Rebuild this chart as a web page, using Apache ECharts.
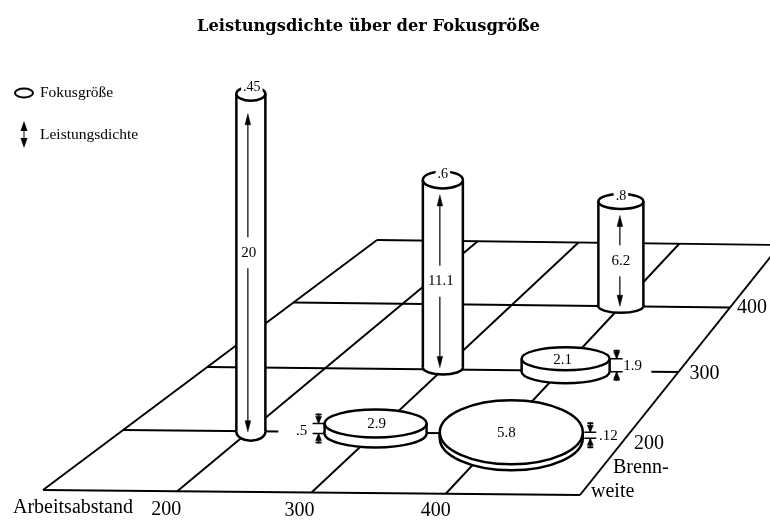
<!DOCTYPE html>
<html>
<head>
<meta charset="utf-8">
<style>html,body{margin:0;padding:0;background:#fff}#c{width:770px;height:520px}</style>
<script src="https://cdn.jsdelivr.net/npm/echarts@6/dist/echarts.min.js"></script>
</head>
<body>
<div id="c"></div>
<script>
// ---- chart values ----
var titleText = 'Leistungsdichte über der Fokusgröße';
var seriesNames = ['Fokusgröße', 'Leistungsdichte'];
var arbeitsabstand = [200, 300, 400, 300, 400, 400];
var brennweite     = [200, 300, 400, 200, 200, 300];
var fokusgroesse   = [.45, .6, .8, 2.9, 5.8, 2.1];
var fokusLabels    = ['.45', '.6', '.8', '2.9', '5.8', '2.1'];
var leistung       = [20, 11.1, 6.2, .5, .12, 1.9];
var leistungLabels = ['20', '11.1', '6.2', '.5', '.12', '1.9'];
var arbeitsTicks = [200, 300, 400];
var brennTicks   = [200, 300, 400];
var planeStops   = [100, 200, 300, 400, 500];

// ---- drawing layout (not data) ----
var FONT = '"Liberation Serif"';
var corners = {fl: [43, 490], fr: [580, 495], bl: [377, 240], br: [780, 245]};
var rowFraction = {100: 0, 200: .24, 300: .492, 400: .75, 500: 1};
var pxPerDensity = 16.9;
// grid line runs that are interrupted in the drawing
var rowRuns = {100: [[100, 500]], 200: [[100, 223], [340, 410]], 300: [[100, 405], [477, 500]], 400: [[100, 500]], 500: [[100, 500]]};
var markShape = [
  {kind: 'col', rx: 14.5, ry: 7, baseRy: 9, dx: 1.5, dy: .5, arrowDx: -3, tipTop: 20, labelDy: -20, topDx: 1, topDy: -6},
  {kind: 'col', rx: 20, ry: 8.5, baseRy: 7, dx: 0, dy: -2, arrowDx: -3, tipTop: 15, labelDy: 0, topDx: 0, topDy: -6},
  {kind: 'col', rx: 22.5, ry: 7.5, baseRy: 6.5, dx: 0, dy: 0, arrowDx: -1, tipTop: 14, labelDy: 0, topDx: 0, topDy: -5},
  {kind: 'disc', rx: 51, ry: 14, dx: 0, dy: 1, thick: 10, side: -1, beam: 6, labelDx: -17, labelDy: 3, valDx: 1, valDy: 1, stem: 10},
  {kind: 'disc', rx: 71.5, ry: 32, dx: 9.5, dy: 4.5, thick: 6, side: 1, beam: 7.5, labelDx: 18, labelDy: 1, valDx: -5, valDy: 1, stem: 10},
  {kind: 'disc', rx: 44, ry: 11.5, dx: 5, dy: 1, thick: 13, side: 1, beam: 7, labelDx: 16, labelDy: 1, valDx: -3, valDy: 1, stem: 9}
];
var arbeitsOffsets = [[-11, 18], [-12, 18], [-10, 17]];
var brennOffsets = [[21, 9], [26, 2], [22, 0]];

// perspective plane -> chart axis values
function project(a, b) {
  var u = (a - 100) / 400, v = rowFraction[b];
  if (v === undefined) v = (b - 100) / 400;
  var f = corners.fl, r = corners.fr, l = corners.bl, k = corners.br;
  var x0 = f[0] + (l[0] - f[0]) * v, y0 = f[1] + (l[1] - f[1]) * v;
  var x1 = r[0] + (k[0] - r[0]) * v, y1 = r[1] + (k[1] - r[1]) * v;
  return [x0 + (x1 - x0) * u, y0 + (y1 - y0) * u];
}

// plane lines built from the stops
var planeLines = [];
planeStops.forEach(function (b) {
  rowRuns[b].forEach(function (run) { planeLines.push([run[0], b, run[1], b]); });
});
planeStops.forEach(function (a) { planeLines.push([a, 100, a, 500]); });

var marks = arbeitsabstand.map(function (a, i) { return [a, brennweite[i], fokusgroesse[i], leistung[i], i]; });

function txt(x, y, text, size, opt) {
  opt = opt || {};
  var style = {x: x, y: y, text: text, fill: '#000', font: size + 'px ' + FONT,
    align: opt.align || 'center', verticalAlign: 'middle'};
  if (opt.bg) { style.backgroundColor = '#fff'; style.padding = opt.bg; }
  return {type: 'text', style: style, z2: opt.z2 || 10};
}
function ln(p, q, w) {
  return {type: 'line', shape: {x1: p[0], y1: p[1], x2: q[0], y2: q[1]}, style: {stroke: '#000', lineWidth: w, fill: null}};
}
function head(x, tipY, dir, len, half) {
  return {type: 'polygon', shape: {points: [[x, tipY], [x - half, tipY + dir * len], [x + half, tipY + dir * len]]},
    style: {fill: '#000', stroke: '#000', lineWidth: .5}};
}
function ell(cx, cy, rx, ry, w) {
  return {type: 'ellipse', shape: {cx: cx, cy: cy, rx: rx, ry: ry}, style: {fill: '#fff', stroke: '#000', lineWidth: w}};
}

function renderPlane(params, api) {
  var p = api.coord(project(api.value(0), api.value(1)));
  var q = api.coord(project(api.value(2), api.value(3)));
  return ln(p, q, 1.9);
}

function renderBody(params, api) {
  var i = api.value(4), s = markShape[i];
  var p = api.coord(project(api.value(0), api.value(1)));
  var cx = p[0] + s.dx, by = p[1] + s.dy;
  var h = s.kind === 'col' ? api.size([0, api.value(3) * pxPerDensity])[1] : s.thick;
  var ty = by - h, ch = [];
  var w = 2.5;
  ch.push(ell(cx, by, s.rx, s.baseRy || s.ry, w));
  ch.push({type: 'rect', shape: {x: cx - s.rx, y: ty, width: s.rx * 2, height: h}, style: {fill: '#fff', stroke: null}});
  ch.push(ln([cx - s.rx, ty], [cx - s.rx, by], w));
  ch.push(ln([cx + s.rx, ty], [cx + s.rx, by], w));
  ch.push(ell(cx, ty, s.rx, s.ry, w));
  if (s.kind === 'col') {
    ch.push(txt(cx + s.topDx, ty + s.topDy, fokusLabels[i], 14, {bg: [0, 2, 0, 2]}));
  } else {
    ch.push(txt(cx + s.valDx, ty + s.valDy, fokusLabels[i], 15));
  }
  return {type: 'group', children: ch};
}

function renderDensity(params, api) {
  var i = api.value(4), s = markShape[i];
  var p = api.coord(project(api.value(0), api.value(1)));
  var cx = p[0] + s.dx, by = p[1] + s.dy, ch = [];
  if (s.kind === 'col') {
    var h = api.size([0, api.value(3) * pxPerDensity])[1];
    var ax = cx + s.arrowDx, topTip = by - h + s.tipTop;
    ch.push(ln([ax, topTip + 5], [ax, by - 5], 1.2));
    ch.push(head(ax, topTip, 1, 11, 2.8));
    ch.push(head(ax, by, -1, 11, 2.8));
    ch.push(txt(ax + 1, (topTip + by) / 2 + s.labelDy, leistungLabels[i], 15, {bg: [8, 1, 8, 1]}));
  } else {
    var ty = by - s.thick, bx = cx + s.side * (s.rx + s.beam);
    ch.push(ln([bx - 6, ty], [bx + 6, ty], 1.5));
    ch.push(ln([bx - 6, by], [bx + 6, by], 1.5));
    ch.push(head(bx, ty, -1, 7, 3));
    ch.push(head(bx, by, 1, 7, 3));
    ch.push(ln([bx - 3, ty - s.stem + 1], [bx + 3, ty - s.stem + 1], 1.8));
    ch.push(ln([bx - 3, by + s.stem - 1], [bx + 3, by + s.stem - 1], 1.8));
    ch.push(ln([bx, ty - s.stem], [bx, ty], 1.5));
    ch.push(ln([bx, by + s.stem], [bx, by], 1.5));
    ch.push(txt(bx + s.labelDx, (ty + by) / 2 + s.labelDy, leistungLabels[i], 15));
  }
  return {type: 'group', children: ch};
}

function renderAxisText(params, api) {
  var ch = [];
  arbeitsTicks.forEach(function (t, i) {
    var p = api.coord(project(t, 100));
    ch.push(txt(p[0] + arbeitsOffsets[i][0], p[1] + arbeitsOffsets[i][1], String(t), 20));
  });
  brennTicks.forEach(function (t, i) {
    var p = api.coord(project(500, t));
    ch.push(txt(p[0] + brennOffsets[i][0], p[1] + brennOffsets[i][1], String(t), 20));
  });
  var o = api.coord([0, 0]);
  ch.push(txt(o[0] + 13, o[1] + 508, 'Arbeitsabstand', 20, {align: 'left'}));
  ch.push(txt(o[0] + 613, o[1] + 468, 'Brenn-', 20, {align: 'left'}));
  ch.push(txt(o[0] + 591, o[1] + 492, 'weite', 20, {align: 'left'}));
  return {type: 'group', children: ch};
}

var chart = echarts.init(document.getElementById('c'), null, {renderer: 'canvas'});
chart.setOption({
  animation: false,
  backgroundColor: '#fff',
  title: {text: titleText, left: 197, top: 19, padding: 0,
    textStyle: {fontFamily: '"DejaVu Serif"', fontWeight: 'bold', fontSize: 16.3, color: '#000'}},
  legend: {
    left: 14, top: 85, padding: 0, orient: 'vertical', itemWidth: 18, itemHeight: 27, itemGap: 20,
    selectedMode: false,
    textStyle: {fontFamily: FONT, fontSize: 15.5, color: '#000', padding: [0, 0, 0, 2]},
    data: [
      {name: seriesNames[0], icon: 'path://M0 5A9 4.5 0 1 0 18 5A9 4.5 0 1 0 0 5Z',
        itemStyle: {color: '#fff', borderColor: '#000', borderWidth: 2}},
      {name: seriesNames[1], icon: 'path://M3.5 0L7 10L4 10L4 17L7 17L3.5 27L0 17L3 17L3 10L0 10Z',
        itemStyle: {color: '#000', borderWidth: 0}}
    ]
  },
  grid: {left: 0, right: 0, top: 0, bottom: 0},
  xAxis: {type: 'value', min: 0, max: 770, show: false},
  yAxis: {type: 'value', min: 0, max: 520, inverse: true, show: false},
  series: [
    {type: 'custom', name: 'Ebene', silent: true, clip: false, z: 1, data: planeLines, renderItem: renderPlane},
    {type: 'custom', name: seriesNames[0], silent: true, clip: false, z: 2, data: marks, renderItem: renderBody},
    {type: 'custom', name: seriesNames[1], silent: true, clip: false, z: 3, data: marks, renderItem: renderDensity},
    {type: 'custom', name: 'Achsen', silent: true, clip: false, z: 4, data: [[0, 0]], renderItem: renderAxisText}
  ]
});
</script>
</body>
</html>
